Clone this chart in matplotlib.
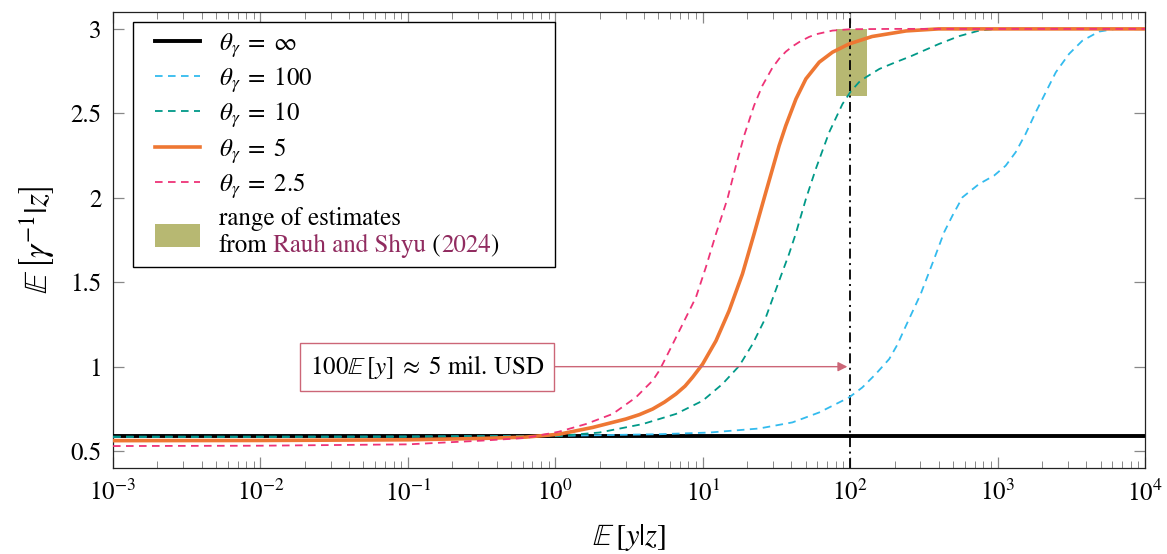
import numpy as np
import matplotlib
matplotlib.use("Agg")
import matplotlib.pyplot as plt
from matplotlib.patches import Patch
from matplotlib.lines import Line2D
from matplotlib.ticker import NullLocator, NullFormatter
from matplotlib.offsetbox import TextArea, HPacker, VPacker, DrawingArea

plt.rcParams['font.family'] = 'STIXGeneral'
plt.rcParams['mathtext.fontset'] = 'stix'
plt.rcParams['font.size'] = 18

# values
x_inf = [1e-3, 1e4]
y_inf = [0.59, 0.59]

x_100 = [0.001, 0.01, 0.1, 1, 5.07, 11.1, 24.2, 40.6, 61.7, 98.4, 121, 149,
         184, 209, 239, 301, 371, 434, 494, 578, 750, 946, 1135, 1327, 1549,
         1816, 2123, 2483, 3055, 3758, 4875, 6310, 10000]
y_100 = [0.585, 0.585, 0.586, 0.59, 0.60, 0.61, 0.634, 0.67, 0.729, 0.818,
         0.877, 0.956, 1.045, 1.13, 1.242, 1.43, 1.637, 1.796, 1.894, 2.003,
         2.082, 2.131, 2.19, 2.27, 2.378, 2.507, 2.625, 2.743, 2.852, 2.93,
         2.984, 3.0, 3.0]

x_10 = [0.001, 0.01, 0.1, 0.316, 1.06, 1.99, 3.91, 6.58, 9.98, 13.6, 17.7,
        21.8, 26.8, 33.0, 38.5, 42.9, 50.1, 58.5, 72.1, 88.7, 101, 115, 128,
        158, 200, 258, 401, 548, 750, 1000, 10000]
y_10 = [0.585, 0.585, 0.586, 0.588, 0.59, 0.61, 0.66, 0.72, 0.798, 0.897,
        1.005, 1.134, 1.292, 1.509, 1.667, 1.791, 1.993, 2.171, 2.388, 2.555,
        2.63, 2.685, 2.714, 2.763, 2.80, 2.838, 2.911, 2.957, 2.99, 3.0, 3.0]

x_5 = [0.001, 0.01, 0.1, 0.316, 0.63, 1.06, 1.79, 3.01, 3.72, 4.57, 5.5,
       6.58, 7.59, 8.53, 9.98, 12.3, 15.1, 18.6, 22.3, 26.8, 33.0, 36.6, 42.9,
       50.1, 61.7, 75.9, 98.4, 141, 240, 398, 10000]
y_5 = [0.562, 0.563, 0.567, 0.575, 0.583, 0.60, 0.64, 0.69, 0.716, 0.749,
       0.79, 0.838, 0.885, 0.937, 1.015, 1.153, 1.331, 1.549, 1.786, 2.033,
       2.309, 2.427, 2.585, 2.704, 2.803, 2.862, 2.911, 2.955, 2.988, 3.0, 3.0]

x_25 = [0.001, 0.01, 0.1, 0.316, 0.63, 1.06, 1.61, 2.45, 3.52, 3.98, 4.57,
        5.07, 5.64, 6.31, 7.29, 8.99, 10.5, 12.3, 14.7, 16.8, 19.1, 22.3,
        25.4, 29.7, 33.1, 36.6, 40.7, 45.1, 52.5, 58.5, 75.9, 100, 200, 10000]
y_25 = [0.53, 0.532, 0.54, 0.562, 0.578, 0.615, 0.66, 0.72, 0.818, 0.865,
        0.917, 0.976, 1.055, 1.14, 1.25, 1.41, 1.588, 1.786, 1.993, 2.19,
        2.368, 2.546, 2.664, 2.77, 2.825, 2.865, 2.897, 2.922, 2.952, 2.968,
        2.99, 2.998, 3.0, 3.0]

# range of estimates from Rauh and Shyu (2024)
est_x = [80, 130]
est_y = [2.6, 3.0]

mark_x = 100          # 100 E[y]
arrow_y = 1.0
box_x = 0.1345

xticks = [1e-3, 1e-2, 1e-1, 1e0, 1e1, 1e2, 1e3, 1e4]
yticks = [0.5, 1, 1.5, 2, 2.5, 3]
ytick_labels = ['0.5', '1', '1.5', '2', '2.5', '3']

c_cyan = '#33bbee'
c_teal = '#009988'
c_orange = '#ee7733'
c_pink = '#ee3377'
c_olive = '#b7b872'
c_rose = '#cc6677'
c_cite = '#912c60'

fig = plt.figure(figsize=(11.67, 5.54), dpi=100)
ax = fig.add_axes([113/1167, 1 - 468/554, 1032/1167, 456/554])

ax.fill_between(est_x, est_y[0], est_y[1], color=c_olive, lw=0, zorder=1)
ax.axvline(mark_x, color='black', lw=1.3, linestyle=(0, (5.5, 2.5, 1.1, 2.5)),
           zorder=2)

dash = (0, (4.2, 3.0))
ax.plot(x_inf, y_inf, color='black', lw=2.8, zorder=3)
ax.plot(x_100, y_100, color=c_cyan, lw=1.3, linestyle=dash, zorder=4)
ax.plot(x_10, y_10, color=c_teal, lw=1.3, linestyle=dash, zorder=4)
ax.plot(x_5, y_5, color=c_orange, lw=2.6, zorder=5)
ax.plot(x_25, y_25, color=c_pink, lw=1.3, linestyle=dash, zorder=6)

ax.annotate(r'$100\mathbb{E}\,[y] \;\approx\; 5$ mil. USD',
            xy=(mark_x, arrow_y), xytext=(box_x, arrow_y),
            ha='center', va='center',
            bbox=dict(boxstyle='square,pad=0.4', fc='white', ec=c_rose, lw=1),
            arrowprops=dict(arrowstyle='-|>', color=c_rose, lw=1,
                            mutation_scale=14, shrinkA=0, shrinkB=2),
            zorder=7)

ax.set_xscale('log')
ax.set_xlim(1e-3, 1e4)
ax.set_ylim(0.4, 3.1)
ax.set_xticks(xticks)
ax.set_yticks(yticks)
ax.set_yticklabels(ytick_labels)
ax.yaxis.set_minor_locator(NullLocator())
ax.xaxis.set_minor_formatter(NullFormatter())
ax.tick_params(which='both', direction='in', top=True, right=True,
               color='#888888')
ax.tick_params(which='major', length=8, width=0.9, pad=9)
ax.tick_params(which='minor', length=5, width=0.7)
ax.tick_params(axis='y', pad=8)
for sp in ax.spines.values():
    sp.set_linewidth(0.9)
    sp.set_color('#222222')

ax.set_xlabel(r'$\mathbb{E}\,\left[y|z\right]$', fontsize=22, labelpad=11)
ax.set_ylabel(r'$\mathbb{E}\,\left[\gamma^{-1}|z\right]$', fontsize=24,
              labelpad=10)

handles = [Line2D([], [], color='black', lw=2.8),
           Line2D([], [], color=c_cyan, lw=1.3, linestyle=dash),
           Line2D([], [], color=c_teal, lw=1.3, linestyle=dash),
           Line2D([], [], color=c_orange, lw=2.6),
           Line2D([], [], color=c_pink, lw=1.3, linestyle=dash),
           Patch(facecolor=c_olive, edgecolor='none')]
labels = [r'$\theta_\gamma \;=\; \infty$', r'$\theta_\gamma \;=\; 100$',
          r'$\theta_\gamma \;=\; 10$', r'$\theta_\gamma \;=\; 5$',
          r'$\theta_\gamma \;=\; 2.5$',
          'range of estimates']
leg = ax.legend(handles, labels, loc='upper left',
                bbox_to_anchor=(0.0194, 0.978), borderaxespad=0,
                fancybox=False, framealpha=1, edgecolor='black',
                handlelength=1.8, handletextpad=0.76, borderpad=0.35,
                labelspacing=0.22, handleheight=1.0)
leg.get_frame().set_linewidth(1.0)
leg.set_zorder(10)

# last entry: two lines, with the citation in colour
fs = 18
line1 = TextArea('range of estimates', textprops=dict(fontsize=fs))
line2 = HPacker(children=[
    TextArea('from', textprops=dict(fontsize=fs)),
    TextArea(' Rauh and Shyu', textprops=dict(fontsize=fs, color=c_cite)),
    TextArea(' (', textprops=dict(fontsize=fs)),
    TextArea('2024', textprops=dict(fontsize=fs, color=c_cite)),
    TextArea(')', textprops=dict(fontsize=fs))],
    sep=0, pad=0, align='baseline')
cite_box = VPacker(children=[line1, line2], sep=2.5, pad=0, align='left',
                   width=327)
cite_box.set_figure(fig)
itembox = leg._legend_handle_box.get_children()[0].get_children()[-1]
hbox = itembox.get_children()[0]
old_text = itembox.get_children()[1]
itembox.get_children()[1] = cite_box
leg.texts.remove(old_text._text)
# centre the olive patch on the two lines
shift = 14
rect = hbox.get_children()[0]
rect.set_y(rect.get_y() - shift)
hbox.ydescent += shift
# extra room on the left of the handles
spacer = DrawingArea(9.4, 0)
spacer.set_figure(fig)
leg._legend_handle_box.get_children().insert(0, spacer)
leg._legend_handle_box.sep = 0

fig.savefig('out.png', dpi=100)
